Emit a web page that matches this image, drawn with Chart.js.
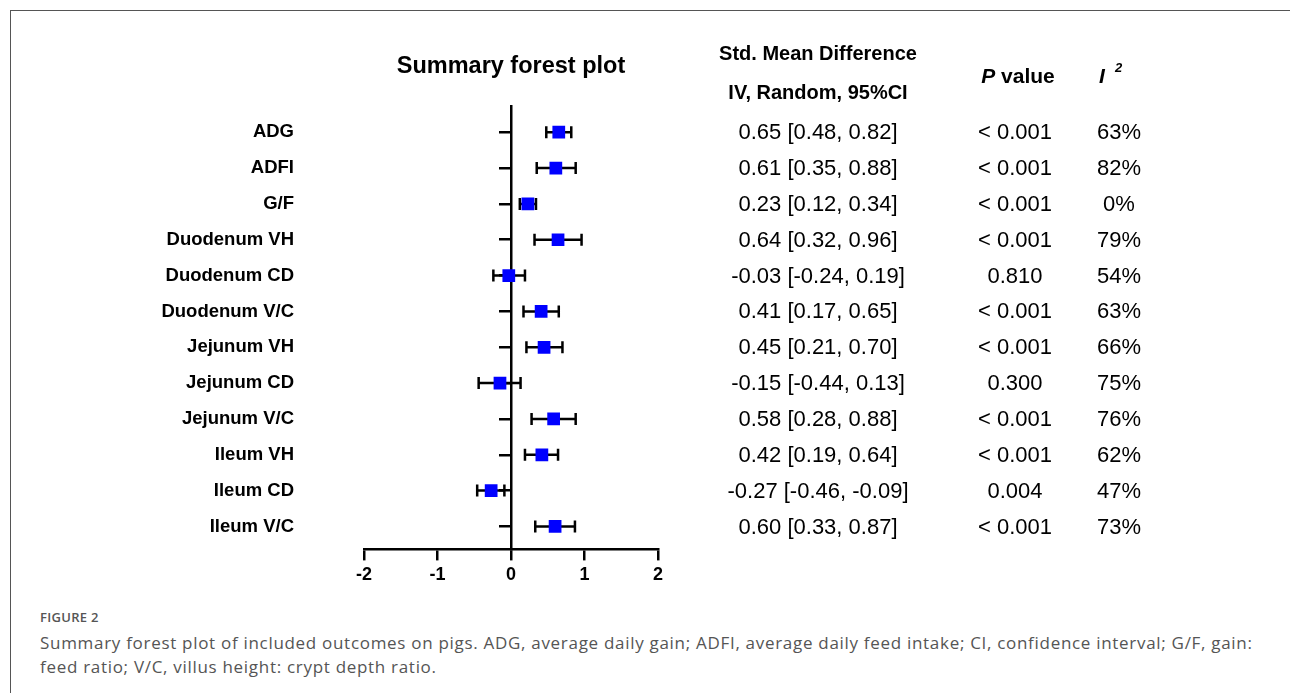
<!DOCTYPE html>
<html>
<head>
<meta charset="utf-8">
<script src="https://cdn.jsdelivr.net/npm/chart.js@4.4.0/dist/chart.umd.min.js"></script>
<style>
  html, body { margin: 0; padding: 0; background: #fff; }
  body { width: 1290px; height: 693px; overflow: hidden; position: relative; }
  .frame { position: absolute; left: 10px; top: 10px; width: 1400px; height: 800px; border-top: 1px solid #555; border-left: 1px solid #555; }
  #chart { position: absolute; left: 0; top: 0; }
  .caption { position: absolute; left: 40px; top: 607px; font-family: "Open Sans", sans-serif; color: #555; white-space: nowrap; }
  .caption .fig { font-size: 13px; line-height: 20px; letter-spacing: 0.3px; font-weight: 600; }
  .caption .txt { font-size: 17px; line-height: 24px; margin-top: 4px; letter-spacing: 0.7px; }
</style>
</head>
<body>
<div class="frame"></div>
<canvas id="chart" width="1290" height="600"></canvas>
<div class="caption">
  <div class="fig">FIGURE 2</div>
  <div class="txt">Summary forest plot of included outcomes on pigs. ADG, average daily gain; ADFI, average daily feed intake; CI, confidence interval; G/F, gain:<br>feed ratio; V/C, villus height: crypt depth ratio.</div>
</div>
<script>
const outcomes = ['ADG', 'ADFI', 'G/F', 'Duodenum VH', 'Duodenum CD', 'Duodenum V/C', 'Jejunum VH', 'Jejunum CD', 'Jejunum V/C', 'Ileum VH', 'Ileum CD', 'Ileum V/C'];
const smd = [0.65, 0.61, 0.23, 0.64, -0.03, 0.41, 0.45, -0.15, 0.58, 0.42, -0.27, 0.60];
const ciLow = [0.48, 0.35, 0.12, 0.32, -0.24, 0.17, 0.21, -0.44, 0.28, 0.19, -0.46, 0.33];
const ciHigh = [0.82, 0.88, 0.34, 0.96, 0.19, 0.65, 0.70, 0.13, 0.88, 0.64, -0.09, 0.87];
const pValues = ['< 0.001', '< 0.001', '< 0.001', '< 0.001', '0.810', '< 0.001', '< 0.001', '0.300', '< 0.001', '< 0.001', '0.004', '< 0.001'];
const i2 = [63, 82, 0, 79, 54, 63, 66, 75, 76, 62, 47, 73];
const xTicks = [-2, -1, 0, 1, 2];

const FONT = "'Liberation Sans', Arial, sans-serif";

function ciText(i) {
  return `${smd[i].toFixed(2)} [${ciLow[i].toFixed(2)}, ${ciHigh[i].toFixed(2)}]`;
}

// error bars under the squares, text columns on top
const forestPlugin = {
  id: 'forest',
  beforeDatasetsDraw(chart) {
    const { ctx, scales: { x, y } } = chart;
    ctx.save();
    ctx.strokeStyle = '#000';
    ctx.lineWidth = 2.5;
    outcomes.forEach((_, i) => {
      const py = y.getPixelForValue(i + 1);
      const x1 = x.getPixelForValue(ciLow[i]);
      const x2 = x.getPixelForValue(ciHigh[i]);
      ctx.beginPath();
      ctx.moveTo(x1, py); ctx.lineTo(x2, py);
      ctx.moveTo(x1, py - 6); ctx.lineTo(x1, py + 6);
      ctx.moveTo(x2, py - 6); ctx.lineTo(x2, py + 6);
      ctx.stroke();
    });
    ctx.restore();
  },
  afterDraw(chart) {
    const { ctx, scales: { y } } = chart;
    ctx.save();
    ctx.fillStyle = '#000';
    ctx.textBaseline = 'middle';

    // row labels
    ctx.font = `bold 18.5px ${FONT}`;
    ctx.textAlign = 'right';
    outcomes.forEach((name, i) => ctx.fillText(name, 294, y.getPixelForValue(i + 1)));

    // columns
    ctx.font = `22px ${FONT}`;
    ctx.textAlign = 'center';
    outcomes.forEach((_, i) => {
      const py = y.getPixelForValue(i + 1) + 1;
      ctx.fillText(ciText(i), 818, py);
      ctx.fillText(pValues[i], 1015, py);
      ctx.fillText(i2[i] + '%', 1119, py);
    });

    // headers
    ctx.font = `bold 20px ${FONT}`;
    ctx.fillText('Std. Mean Difference', 818, 54);
    ctx.fillText('IV, Random, 95%CI', 818, 93);

    ctx.textAlign = 'left';
    ctx.font = `italic bold 21px ${FONT}`;
    const pw = ctx.measureText('P').width;
    ctx.font = `bold 21px ${FONT}`;
    const vw = ctx.measureText(' value').width;
    const px0 = 1018 - (pw + vw) / 2;
    ctx.font = `italic bold 21px ${FONT}`;
    ctx.fillText('P', px0, 77);
    ctx.font = `bold 21px ${FONT}`;
    ctx.fillText(' value', px0 + pw, 77);

    ctx.font = `italic bold 21px ${FONT}`;
    ctx.fillText('I', 1099, 77);
    ctx.font = `italic bold 13px ${FONT}`;
    ctx.fillText('2', 1115, 68);
    ctx.restore();
  }
};

new Chart(document.getElementById('chart'), {
  type: 'scatter',
  data: {
    datasets: [{
      data: smd.map((v, i) => ({ x: v, y: i + 1 })),
      pointStyle: 'rect',
      pointRadius: 9,
      pointHoverRadius: 9,
      backgroundColor: '#0000ff',
      borderColor: '#0000ff',
      borderWidth: 0
    }]
  },
  options: {
    responsive: false,
    animation: false,
    events: [],
    layout: { padding: { left: 364, right: 632, top: 52, bottom: 10 } },
    plugins: {
      legend: { display: false },
      tooltip: { enabled: false },
      title: {
        display: true,
        text: 'Summary forest plot',
        fullSize: false,
        color: '#000',
        font: { family: FONT, size: 23.5, weight: 'bold' },
        padding: { top: 0, bottom: 26 }
      }
    },
    scales: {
      x: {
        type: 'linear',
        position: 'bottom',
        min: -2,
        max: 2,
        afterBuildTicks: scale => { scale.ticks = xTicks.map(v => ({ value: v })); },
        grid: { drawOnChartArea: false, color: '#000', lineWidth: 2.5, tickLength: 11 },
        border: { color: '#000', width: 2.5 },
        ticks: { color: '#000', padding: 4, font: { family: FONT, size: 18, weight: 'bold' } }
      },
      y: {
        type: 'linear',
        reverse: true,
        min: 0.274,
        max: 12.64,
        position: { x: 0 },
        afterBuildTicks: scale => { scale.ticks = outcomes.map((_, i) => ({ value: i + 1 })); },
        grid: { drawOnChartArea: false, color: '#000', lineWidth: 2.5, tickLength: 11 },
        border: { color: '#000', width: 2.5 },
        ticks: { display: false }
      }
    }
  },
  plugins: [forestPlugin]
});
</script>
</body>
</html>
